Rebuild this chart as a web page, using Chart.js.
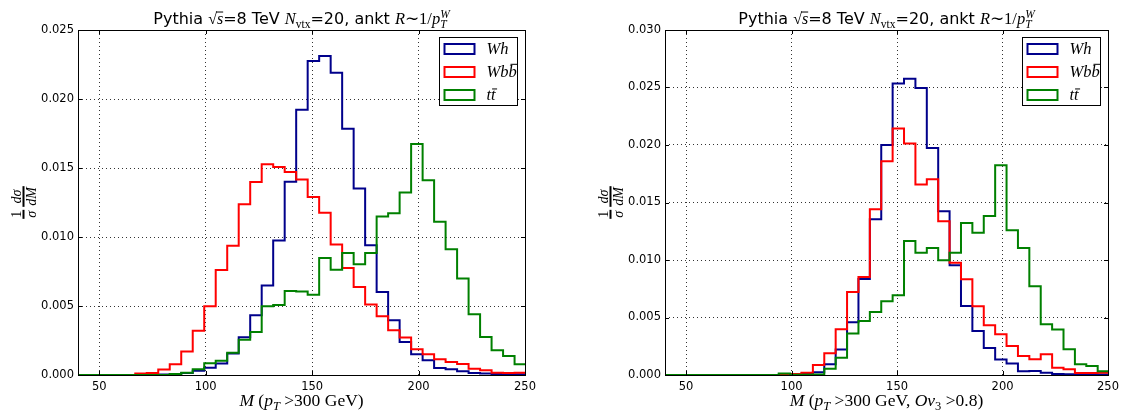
<!DOCTYPE html>
<html>
<head>
<meta charset="utf-8">
<script src="https://cdn.jsdelivr.net/npm/chart.js@4.4.1/dist/chart.umd.min.js"></script>
<style>
html,body{margin:0;padding:0;background:#fff;}
#wrap{position:relative;width:1124px;height:411px;overflow:hidden;}
canvas{position:absolute;top:0;}
</style>
</head>
<body>
<div id="wrap">
  <canvas id="left" width="562" height="411" style="left:0"></canvas>
  <canvas id="right" width="562" height="411" style="left:562px"></canvas>
</div>
<script>
// bin edges in GeV (39 bins)
const binEdges = [39.9,45.3,50.7,56.1,61.5,66.9,72.3,77.7,83.1,88.5,93.9,99.3,104.7,110.1,115.5,120.9,126.3,131.7,137.1,142.5,
  147.9,153.3,158.7,164.1,169.5,174.9,180.3,185.7,191.1,196.5,201.9,207.3,212.7,218.1,223.5,228.9,234.3,239.7,245.1,250.5];

// left: pT > 300 GeV
const whPt  = [0,0,0,0,0,0,0,0.00003,0.00006,0.00015,0.0003,0.00053,0.00083,0.00155,0.00273,0.00433,0.00648,0.00974,0.01401,0.01923,
  0.02275,0.02311,0.02191,0.01785,0.01351,0.0094,0.00601,0.00396,0.00239,0.0015,0.00107,0.00051,0.00041,0.00027,0.00015,0.0001,0.00008,0.00005,0.00005];
const wbbPt = [0,0,0,0,0,0.0001,0.00015,0.0004,0.00078,0.0017,0.0032,0.00498,0.0076,0.00937,0.01238,0.01399,0.01527,0.01507,0.01471,0.01416,
  0.0129,0.01176,0.00945,0.00775,0.00638,0.0051,0.00425,0.00324,0.00271,0.00186,0.0015,0.00114,0.00094,0.0008,0.00046,0.00034,0.00017,0.00015,0.00017];
const ttPt  = [0,0,0,0,0,0,0,0,0.00007,0.00017,0.00041,0.00085,0.00104,0.00162,0.00256,0.00312,0.00498,0.00507,0.00609,0.00605,
  0.00582,0.00848,0.00763,0.00884,0.00802,0.00884,0.01148,0.01172,0.01322,0.01674,0.01411,0.01111,0.00911,0.007,0.0044,0.00275,0.00179,0.00138,0.00078];

// right: pT > 300 GeV, Ov3 > 0.8
const whOv  = [0,0,0,0,0,0,0,0,0,0,0.00003,0.00005,0.00012,0.00023,0.00093,0.00221,0.00458,0.00835,0.01355,0.02,
  0.02534,0.02577,0.02496,0.01974,0.01424,0.00954,0.006,0.00383,0.00235,0.00134,0.00099,0.00032,0.00035,0.0002,0.00009,0.00006,0.00005,0.00005,0.00005];
const wbbOv = [0,0,0,0,0,0,0,0,0,0,0,0.00008,0.0002,0.00087,0.00189,0.00397,0.00722,0.00852,0.01441,0.01858,
  0.02143,0.02012,0.01656,0.01702,0.01337,0.00977,0.00832,0.00597,0.00432,0.00354,0.00252,0.00165,0.00137,0.0018,0.00064,0.0005,0.00017,0.00017,0.0002];
const ttOv  = [0,0,0,0,0,0,0,0,0,0,0.00012,0.00003,0.00003,0.00005,0.00055,0.00151,0.0036,0.0047,0.00548,0.00641,
  0.00693,0.01166,0.01064,0.01104,0.00997,0.01064,0.01322,0.01238,0.01383,0.01824,0.01258,0.01104,0.00771,0.00441,0.00395,0.00223,0.00093,0.00078,0.00032];

const xTicks  = [50,100,150,200,250];
const yTicksPt = [0,0.005,0.01,0.015,0.02,0.025];
const yTicksOv = [0,0.005,0.01,0.015,0.02,0.025,0.03];

const BLUE='#00008b', RED='#ff0000', GREEN='#008000';
const SANS='"DejaVu Sans"', SERIF='"Liberation Serif"';

Chart.defaults.color='#000';

function steps(vals){
  const pts=[];
  vals.forEach((v,i)=>{ pts.push({x:binEdges[i],y:v}); pts.push({x:binEdges[i+1],y:v}); });
  return pts;
}

// text runs
function run(t, style, size, extra){
  let f;
  if(style==='sans') f=`${size}px ${SANS}`;
  else if(style==='it') f=`italic ${size}px ${SERIF}`;
  else f=`${size}px ${SERIF}`;
  return Object.assign({t, f, s:size}, extra||{});
}
function layoutRuns(ctx, runs){
  let x=0, prevStart=0; const placed=[];
  runs.forEach(r=>{
    ctx.font=r.f;
    const w=ctx.measureText(r.t).width;
    const start=r.stack?prevStart:x;
    placed.push({r,x:start,w});
    x=r.stack?Math.max(x,start+w):start+w;
    prevStart=start;
  });
  return {placed,width:x};
}
function drawRuns(ctx, runs, x, baseline, align){
  const L=layoutRuns(ctx,runs);
  const x0=align==='left'?x:x-L.width/2;
  ctx.textAlign='left'; ctx.textBaseline='alphabetic'; ctx.fillStyle='#000';
  L.placed.forEach(p=>{
    ctx.font=p.r.f;
    const y=baseline+(p.r.dy||0);
    ctx.fillText(p.r.t, x0+p.x, y);
    if(p.r.over){
      const top=y-p.r.s*(p.r.overH||0.75);
      const l=p.r.overL||0, w=p.r.overW||p.w;
      ctx.fillRect(x0+p.x+l, top, w-l, 1);
    }
  });
}

const titleRuns = [
  run('Pythia ','sans',16),
  run('√','rm',16),
  run('s','it',16,{over:true,overH:0.78,overL:-1}),
  run('=8 TeV ','sans',16),
  run('N','it',16.5),
  run('vtx','rm',11.5,{dy:4}),
  run('=20, ankt ','sans',16),
  run('R','it',16.5),
  run('∼','rm',16.5),
  run('1/','rm',16.5),
  run('p','it',16.5),
  run('W','it',11.5,{dy:-6}),
  run('T','it',11.5,{dy:4,stack:true})
];
const xLabelPt = [
  run('M','it',17.5), run(' (','rm',17.5), run('p','it',17.5), run('T','it',12.5,{dy:4}),
  run(' >300 GeV)','rm',17.5)
];
const xLabelOv = [
  run('M','it',17.5), run(' (','rm',17.5), run('p','it',17.5), run('T','it',12.5,{dy:4}),
  run(' >300 GeV, ','rm',17.5), run('Ov','it',17.5), run('3','rm',12.5,{dy:4}), run(' >0.8)','rm',17.5)
];
const legendRows = [
  {c:BLUE,  runs:[run('Wh','it',16.5)]},
  {c:RED,   runs:[run('Wb','it',16.5), run('b','it',16.5,{over:true,overH:0.8,overL:2,overW:9})]},
  {c:GREEN, runs:[run('t','it',16.5), run('t','it',16.5,{over:true,overH:0.7,overL:1,overW:6})]}
];

function drawYLabel(ctx, cx, cy){
  ctx.save();
  ctx.translate(cx, cy);
  ctx.rotate(-Math.PI/2);
  ctx.fillStyle='#000'; ctx.textBaseline='alphabetic'; ctx.textAlign='center';
  const fr=[[ '1','σ' ],[ 'dσ','dM' ]];
  const fn='14px '+SERIF, fi='italic 14px '+SERIF;
  const ws=fr.map(f=>{ ctx.font=fi; return Math.max(ctx.measureText(f[0]).width, ctx.measureText(f[1]).width)+2; });
  const total=ws[0]+ws[1]+3;
  let u=-total/2;
  fr.forEach((f,i)=>{
    const mid=u+ws[i]/2;
    ctx.font=i===0?fn:fi; ctx.fillText(f[0], mid, -3);
    ctx.font=fi; ctx.fillText(f[1], mid, 12);
    ctx.fillRect(u, -1.5, ws[i], 2);
    u+=ws[i]+3;
  });
  ctx.restore();
}

function makeDecor(yTicks, xLabel){
  return {
    id:'decor',
    afterDraw(chart){
      const ctx=chart.ctx, a=chart.chartArea, xs=chart.scales.x, ys=chart.scales.y;
      ctx.save();
      ctx.strokeStyle='#000'; ctx.lineWidth=1;
      ctx.beginPath();
      xTicks.forEach(v=>{
        const p=Math.round(xs.getPixelForValue(v))+0.5;
        ctx.moveTo(p,a.bottom); ctx.lineTo(p,a.bottom-4);
        ctx.moveTo(p,a.top); ctx.lineTo(p,a.top+4);
      });
      yTicks.forEach(v=>{
        const p=Math.round(ys.getPixelForValue(v))+0.5;
        ctx.moveTo(a.left,p); ctx.lineTo(a.left+4,p);
        ctx.moveTo(a.right,p); ctx.lineTo(a.right-4,p);
      });
      ctx.stroke();
      ctx.strokeRect(Math.round(a.left)+0.5, Math.round(a.top)+0.5, Math.round(a.right-a.left), Math.round(a.bottom-a.top));

      // legend
      const lx=Math.round(a.right-86)+0.5, ly=Math.round(a.top+7)+0.5;
      ctx.fillStyle='#fff'; ctx.fillRect(lx,ly,78,68);
      ctx.strokeStyle='#000'; ctx.lineWidth=1; ctx.strokeRect(lx,ly,78,68);
      legendRows.forEach((r,i)=>{
        const cy=ly+11.5+i*23;
        ctx.strokeStyle=r.c; ctx.lineWidth=2;
        ctx.strokeRect(lx+5, cy-5, 30, 10);
        drawRuns(ctx, r.runs, lx+47, cy+5, 'left');
      });

      const cx=(a.left+a.right)/2;
      drawRuns(ctx, titleRuns, cx, a.top-6);
      drawRuns(ctx, xLabel, cx, a.bottom+31);
      drawYLabel(ctx, a.left-54, (a.top+a.bottom)/2);
      ctx.restore();
    }
  };
}

function makeChart(id, wh, wbb, tt, yTicks, yMax, yWidth, padRight, xLabel){
  const ds=(label,vals,color,order)=>({label, data:steps(vals), borderColor:color, borderWidth:2,
    pointRadius:0, tension:0, fill:false, order});
  return new Chart(document.getElementById(id), {
    type:'line',
    data:{ datasets:[ ds('Wh',wh,BLUE,3), ds('Wbb',wbb,RED,2), ds('tt',tt,GREEN,1) ] },
    options:{
      responsive:false, animation:false, events:[],
      layout:{ padding:{ left:0, right:padRight, top:30, bottom:0 } },
      plugins:{ legend:{display:false}, tooltip:{enabled:false} },
      scales:{
        x:{ type:'linear', min:40, max:250,
          afterBuildTicks:s=>{ s.ticks=xTicks.map(v=>({value:v})); },
          afterFit:s=>{ s.height=36; },
          grid:{ color:'rgba(0,0,0,0.8)', lineWidth:1, drawTicks:false },
          border:{ display:false, dash:[1,3] },
          ticks:{ padding:5, maxRotation:0, autoSkip:false, font:{family:'DejaVu Sans', size:11.5}, color:'#000',
            callback:v=>String(v) } },
        y:{ type:'linear', min:0, max:yMax,
          afterBuildTicks:s=>{ s.ticks=yTicks.map(v=>({value:v})); },
          afterFit:s=>{ s.width=yWidth; },
          grid:{ color:'rgba(0,0,0,0.8)', lineWidth:1, drawTicks:false },
          border:{ display:false, dash:[1,3] },
          ticks:{ padding:4, autoSkip:false, font:{family:'DejaVu Sans', size:11.5}, color:'#000',
            callback:v=>Number(v).toFixed(3) } }
      }
    },
    plugins:[ makeDecor(yTicks, xLabel) ]
  });
}

makeChart('left',  whPt, wbbPt, ttPt, yTicksPt, 0.025, 78, 37, xLabelPt);
makeChart('right', whOv, wbbOv, ttOv, yTicksOv, 0.03, 103, 13, xLabelOv);
</script>
</body>
</html>
